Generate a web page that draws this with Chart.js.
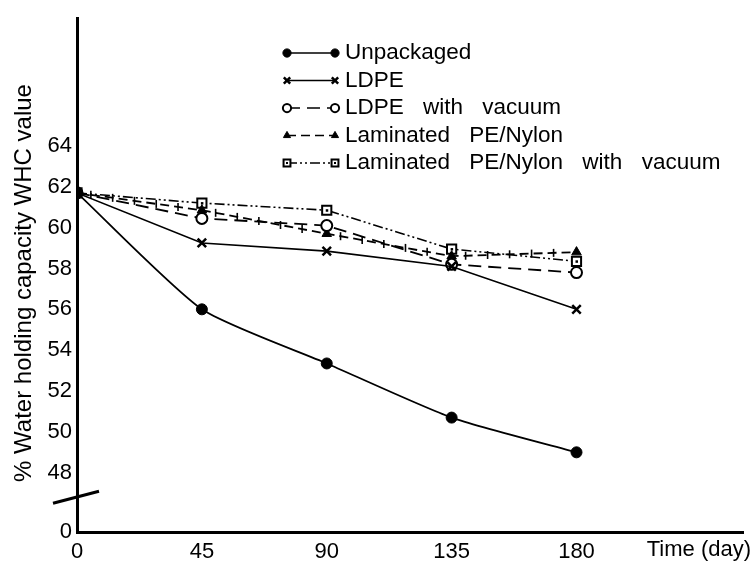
<!DOCTYPE html>
<html>
<head>
<meta charset="utf-8">
<script src="https://cdn.jsdelivr.net/npm/chart.js@4.4.0/dist/chart.umd.min.js"></script>
<style>
  html, body { margin: 0; padding: 0; background: #fff; }
  #wrap { width: 753px; height: 561px; }
</style>
</head>
<body>
<div id="wrap"><canvas id="myChart" width="753" height="561"></canvas></div>
<script>
// storage time (day)
var days = [0, 45, 90, 135, 180];
// % water holding capacity per treatment
var unpackaged      = [61.7, 56.0, 53.35, 50.7, 49.0];
var ldpe            = [61.7, 59.25, 58.85, 58.1, 56.0];
var ldpeVacuum      = [61.7, 60.45, 60.1, 58.2, 57.8];
var laminated       = [61.7, 60.85, 59.7, 58.6, 58.8];
var laminatedVacuum = [61.7, 61.2, 60.85, 58.95, 58.35];
var seriesNames = ['Unpackaged', 'LDPE', 'LDPE with vacuum', 'Laminated PE/Nylon', 'Laminated PE/Nylon with vacuum'];
var xTicks = [0, 45, 90, 135, 180];
var yTicks = [48, 50, 52, 54, 56, 58, 60, 62, 64];
var yBottom = 45.1; // shown as "0" below the axis break

Chart.defaults.font.family = '"Liberation Sans", Arial, sans-serif';
Chart.defaults.color = '#000';

function pts(arr) {
  return days.map(function (d, i) { return { x: d, y: arr[i] }; });
}

var decor = {
  id: 'decor',
  afterDatasetsDraw: function (chart) {
    var ctx = chart.ctx;
    ctx.save();
    // little crosses along the laminated PE/Nylon line
    var m3 = chart.getDatasetMeta(3).data;
    ctx.strokeStyle = '#000';
    ctx.lineWidth = 1.6;
    for (var i = 0; i < m3.length - 1; i++) {
      var a = m3[i], b = m3[i + 1];
      var len = Math.hypot(b.x - a.x, b.y - a.y);
      for (var s = 14; s < len - 8; s += 22) {
        var px = a.x + (b.x - a.x) * s / len, py = a.y + (b.y - a.y) * s / len;
        ctx.beginPath(); ctx.moveTo(px, py - 4); ctx.lineTo(px, py + 4); ctx.stroke();
      }
    }
    // dot inside the squares
    ctx.fillStyle = '#000';
    chart.getDatasetMeta(4).data.forEach(function (p) {
      ctx.fillRect(p.x - 1, p.y - 1, 2.5, 2.5);
    });
    ctx.restore();
  },
  afterDraw: function (chart) {
    var ctx = chart.ctx;
    var xs = chart.scales.x, ys = chart.scales.y;
    ctx.save();
    // axis break mark
    var bx = xs.getPixelForValue(0), by = ys.getPixelForValue(46.8);
    ctx.strokeStyle = '#000';
    ctx.lineWidth = 3;
    ctx.beginPath(); ctx.moveTo(bx - 24, by + 6); ctx.lineTo(bx + 22, by - 6); ctx.stroke();

    ctx.fillStyle = '#000';
    ctx.textBaseline = 'middle';
    // y axis title
    ctx.save();
    ctx.translate(24, 283);
    ctx.rotate(-Math.PI / 2);
    ctx.textAlign = 'center';
    ctx.font = '24px "Liberation Sans", Arial, sans-serif';
    ctx.fillText('% Water holding capacity WHC value', 0, 0);
    ctx.restore();

    // x axis title
    ctx.font = '22px "Liberation Sans", Arial, sans-serif';
    ctx.textAlign = 'right';
    ctx.fillText('Time (day)', 751, 550);

    // legend
    ctx.textAlign = 'left';
    chart.data.datasets.forEach(function (ds, i) {
      var y = 53 + i * 27.5;
      ctx.strokeStyle = '#000';
      ctx.lineWidth = 1.6;
      ctx.setLineDash(ds.borderDash || []);
      ctx.beginPath(); ctx.moveTo(287, y); ctx.lineTo(335, y); ctx.stroke();
      ctx.setLineDash([]);
      [287, 335].forEach(function (x) {
        ctx.fillStyle = ds.pointBackgroundColor;
        ctx.strokeStyle = '#000';
        ctx.lineWidth = ds.pointBorderWidth;
        Chart.helpers.drawPoint(ctx, { pointStyle: ds.pointStyle, radius: ds.pointRadius * 0.75, rotation: 0, borderWidth: ds.pointBorderWidth }, x, y);
        if (i === 4) { ctx.fillStyle = '#000'; ctx.fillRect(x - 1, y - 1, 2, 2); }
      });
      ctx.fillStyle = '#000';
      ctx.font = '22.5px "Liberation Sans", Arial, sans-serif';
      ctx.wordSpacing = '13px';
      ctx.fillText(seriesNames[i], 345, y);
      ctx.wordSpacing = '0px';
    });
    ctx.restore();
  }
};

var ctx = document.getElementById('myChart').getContext('2d');
var myChart = new Chart(ctx, {
  type: 'line',
  data: {
    datasets: [{
      label: seriesNames[0], data: pts(unpackaged),
      borderColor: '#000', borderWidth: 1.8, tension: 0.2,
      pointStyle: 'circle', pointRadius: 5.5, pointBackgroundColor: '#000', pointBorderColor: '#000', pointBorderWidth: 1
    }, {
      label: seriesNames[1], data: pts(ldpe),
      borderColor: '#000', borderWidth: 1.6, tension: 0,
      pointStyle: 'crossRot', pointRadius: 6, pointBackgroundColor: '#000', pointBorderColor: '#000', pointBorderWidth: 2.5
    }, {
      label: seriesNames[2], data: pts(ldpeVacuum),
      borderColor: '#000', borderWidth: 1.8, borderDash: [13, 7], tension: 0,
      pointStyle: 'circle', pointRadius: 5.5, pointBackgroundColor: '#fff', pointBorderColor: '#000', pointBorderWidth: 2
    }, {
      label: seriesNames[3], data: pts(laminated),
      borderColor: '#000', borderWidth: 1.8, borderDash: [9, 5], tension: 0,
      pointStyle: 'triangle', pointRadius: 5.5, pointBackgroundColor: '#000', pointBorderColor: '#000', pointBorderWidth: 1
    }, {
      label: seriesNames[4], data: pts(laminatedVacuum),
      borderColor: '#000', borderWidth: 1.6, borderDash: [10, 3, 2, 3, 2, 3], tension: 0,
      pointStyle: 'rect', pointRadius: 6.5, pointBackgroundColor: '#fff', pointBorderColor: '#000', pointBorderWidth: 2
    }]
  },
  options: {
    responsive: false,
    animation: false,
    devicePixelRatio: 1,
    layout: { padding: { top: 13, right: 10, left: 0, bottom: 0 } },
    plugins: { legend: { display: false }, tooltip: { enabled: false } },
    scales: {
      x: {
        type: 'linear', min: 0, max: 240,
        afterBuildTicks: function (s) { s.ticks = xTicks.map(function (v) { return { value: v }; }); },
        afterFit: function (s) { s.height = 29; },
        ticks: { color: '#000', font: { size: 22 }, padding: 7, maxRotation: 0, autoSkip: false },
        grid: { display: false, drawTicks: false },
        border: { display: true, color: '#000', width: 3 }
      },
      y: {
        min: yBottom, max: 70.25,
        afterBuildTicks: function (s) {
          s.ticks = [{ value: yBottom }].concat(yTicks.map(function (v) { return { value: v }; }));
        },
        afterFit: function (s) { s.width = 77; },
        ticks: {
          color: '#000', font: { size: 22 }, padding: 5, autoSkip: false,
          callback: function (v) { return v === yBottom ? '0' : v; }
        },
        grid: { display: false, drawTicks: false },
        border: { display: true, color: '#000', width: 3 }
      }
    }
  },
  plugins: [decor]
});
</script>
</body>
</html>
